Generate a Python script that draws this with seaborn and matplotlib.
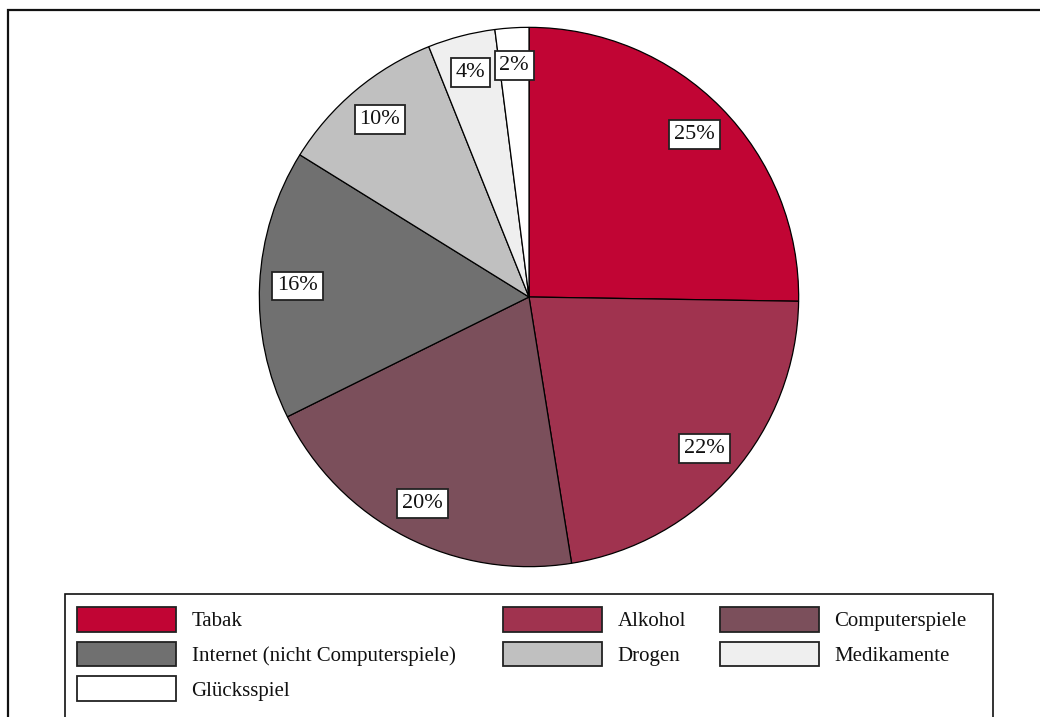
import numpy as np
import pandas as pd
import matplotlib.pyplot as plt
import matplotlib.patches as mpatches
import seaborn as sns

categories = ['Tabak', 'Alkohol', 'Computerspiele', 'Internet (nicht Computerspiele)',
              'Drogen', 'Medikamente', 'Glücksspiel']
shares = [25, 22, 20, 16, 10, 4, 2]
colors = ['#C10534', '#A0334F', '#7B4F5B', '#707070', '#C0C0C0', '#EFEFEF', '#FFFFFF']

df = pd.DataFrame({'kategorie': categories, 'anteil': shares, 'farbe': colors})

sns.set_theme(style='white')
plt.rcParams['font.family'] = ['Liberation Serif', 'DejaVu Serif']

W, H = 1040, 717
fig = plt.figure(figsize=(W / 100, H / 100), dpi=100)
fig.patch.set_facecolor('white')

# outer frame (cut at right and bottom)
fig.patches.append(mpatches.Rectangle((8 / W, -0.1), 1.2, 1 - 10 / H + 0.1,
                                      transform=fig.transFigure, fill=False,
                                      edgecolor='#111111', linewidth=1.6))

# pie axes: center (529, 297), radius 271 px
cx, cy, r = 529, 297, 271
ax = fig.add_axes([(cx - r) / W, (H - cy - r) / H, 2 * r / W, 2 * r / H])
wedges, texts, autotexts = ax.pie(
    df['anteil'], colors=df['farbe'], startangle=90, counterclock=False,
    autopct=lambda p: f'{p:.0f}%', pctdistance=0.86, radius=1,
    wedgeprops=dict(edgecolor='black', linewidth=0.9))
# show the values as read, not renormalised
for t, v in zip(autotexts, df['anteil']):
    t.set_text(f'{v}%')
    t.set_fontsize(16)
    t.set_color('#111111')
    t.set_bbox(dict(boxstyle='square,pad=0.22', facecolor='white',
                    edgecolor='#222222', linewidth=1.3))
ax.set_xlim(-1.005, 1.005)
ax.set_ylim(-1.005, 1.005)
ax.axis('off')

# legend frame (cut at bottom)
fig.patches.append(mpatches.Rectangle((65 / W, -0.1), (993 - 65) / W, 0.1 + (H - 594) / H,
                                      transform=fig.transFigure, fill=False,
                                      edgecolor='#111111', linewidth=1.2))

handles = [mpatches.Patch(facecolor=c, edgecolor='#222222', linewidth=1.3) for c in colors]
columns = [[0, 3, 6], [1, 4], [2, 5]]
col_x = [77, 503, 720]
for xs, idx in zip(col_x, columns):
    leg = fig.legend([handles[i] for i in idx], [categories[i] for i in idx],
                     loc='upper left', bbox_to_anchor=(xs / W, 1 - 607 / H),
                     bbox_transform=fig.transFigure, frameon=False,
                     fontsize=15, handlelength=4.75, handleheight=1.45,
                     handletextpad=0.75, labelspacing=0.48, borderpad=0, borderaxespad=0)
    for t in leg.get_texts():
        t.set_color('#111111')

fig.savefig('out.png', dpi=100)
